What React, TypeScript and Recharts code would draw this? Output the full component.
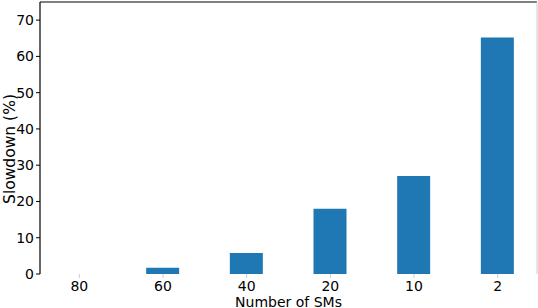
import React from 'react';
import { BarChart, Bar, XAxis, YAxis, ReferenceLine, Label } from 'recharts';

const categories = ['80', '60', '40', '20', '10', '2'];
const slowdown = [0, 1.7, 5.8, 18, 27, 65.2];
const yTicks = [0, 10, 20, 30, 40, 50, 60, 70];

const data = categories.map((c, i) => ({ idx: i, label: c, value: slowdown[i] }));

const FONT = 'DejaVu Sans';

export default function App() {
  return (
    <div style={{ position: 'absolute', left: 0, top: 0, width: 538, height: 308, background: '#fff' }}>
      <BarChart width={538} height={308} data={data} margin={{ top: 2, right: 1, bottom: 0, left: 0 }}>
        <XAxis
          dataKey="idx"
          type="number"
          domain={[-0.47, 5.47]}
          ticks={[0, 1, 2, 3, 4, 5]}
          tickFormatter={(v: number) => categories[v]}
          allowDataOverflow
          axisLine={false}
          tickLine={{ stroke: '#cccccc' }}
          tickSize={4}
          tickMargin={3}
          height={34}
          tick={{ fill: '#000', fontSize: 14, fontFamily: FONT }}
        >
          <Label value="Number of SMs" position="insideBottom" offset={1.5} style={{ fill: '#000', fontSize: 14, fontFamily: FONT }} />
        </XAxis>
        <YAxis
          type="number"
          domain={[0, 75]}
          ticks={yTicks}
          allowDataOverflow
          width={40}
          axisLine={{ stroke: '#000', strokeWidth: 1.2 }}
          tickLine={{ stroke: '#000' }}
          tickSize={4}
          tick={{ fill: '#000', fontSize: 14, fontFamily: FONT }}
        >
          <Label
            content={() => {
              const cx = 14.5;
              const cy = 149;
              return (
                <text
                  x={cx}
                  y={cy}
                  transform={`rotate(-90, ${cx}, ${cy})`}
                  textAnchor="middle"
                  fill="#000"
                  fontSize={15.5}
                  fontFamily={FONT}
                >
                  Slowdown (%)
                </text>
              );
            }}
          />
        </YAxis>
        <ReferenceLine y={75} stroke="#000" strokeWidth={1.2} />
        <ReferenceLine x={5.47} stroke="#cccccc" strokeWidth={1} />
        <Bar dataKey="value" fill="#1f77b4" barSize={33} isAnimationActive={false} />
      </BarChart>
    </div>
  );
}
